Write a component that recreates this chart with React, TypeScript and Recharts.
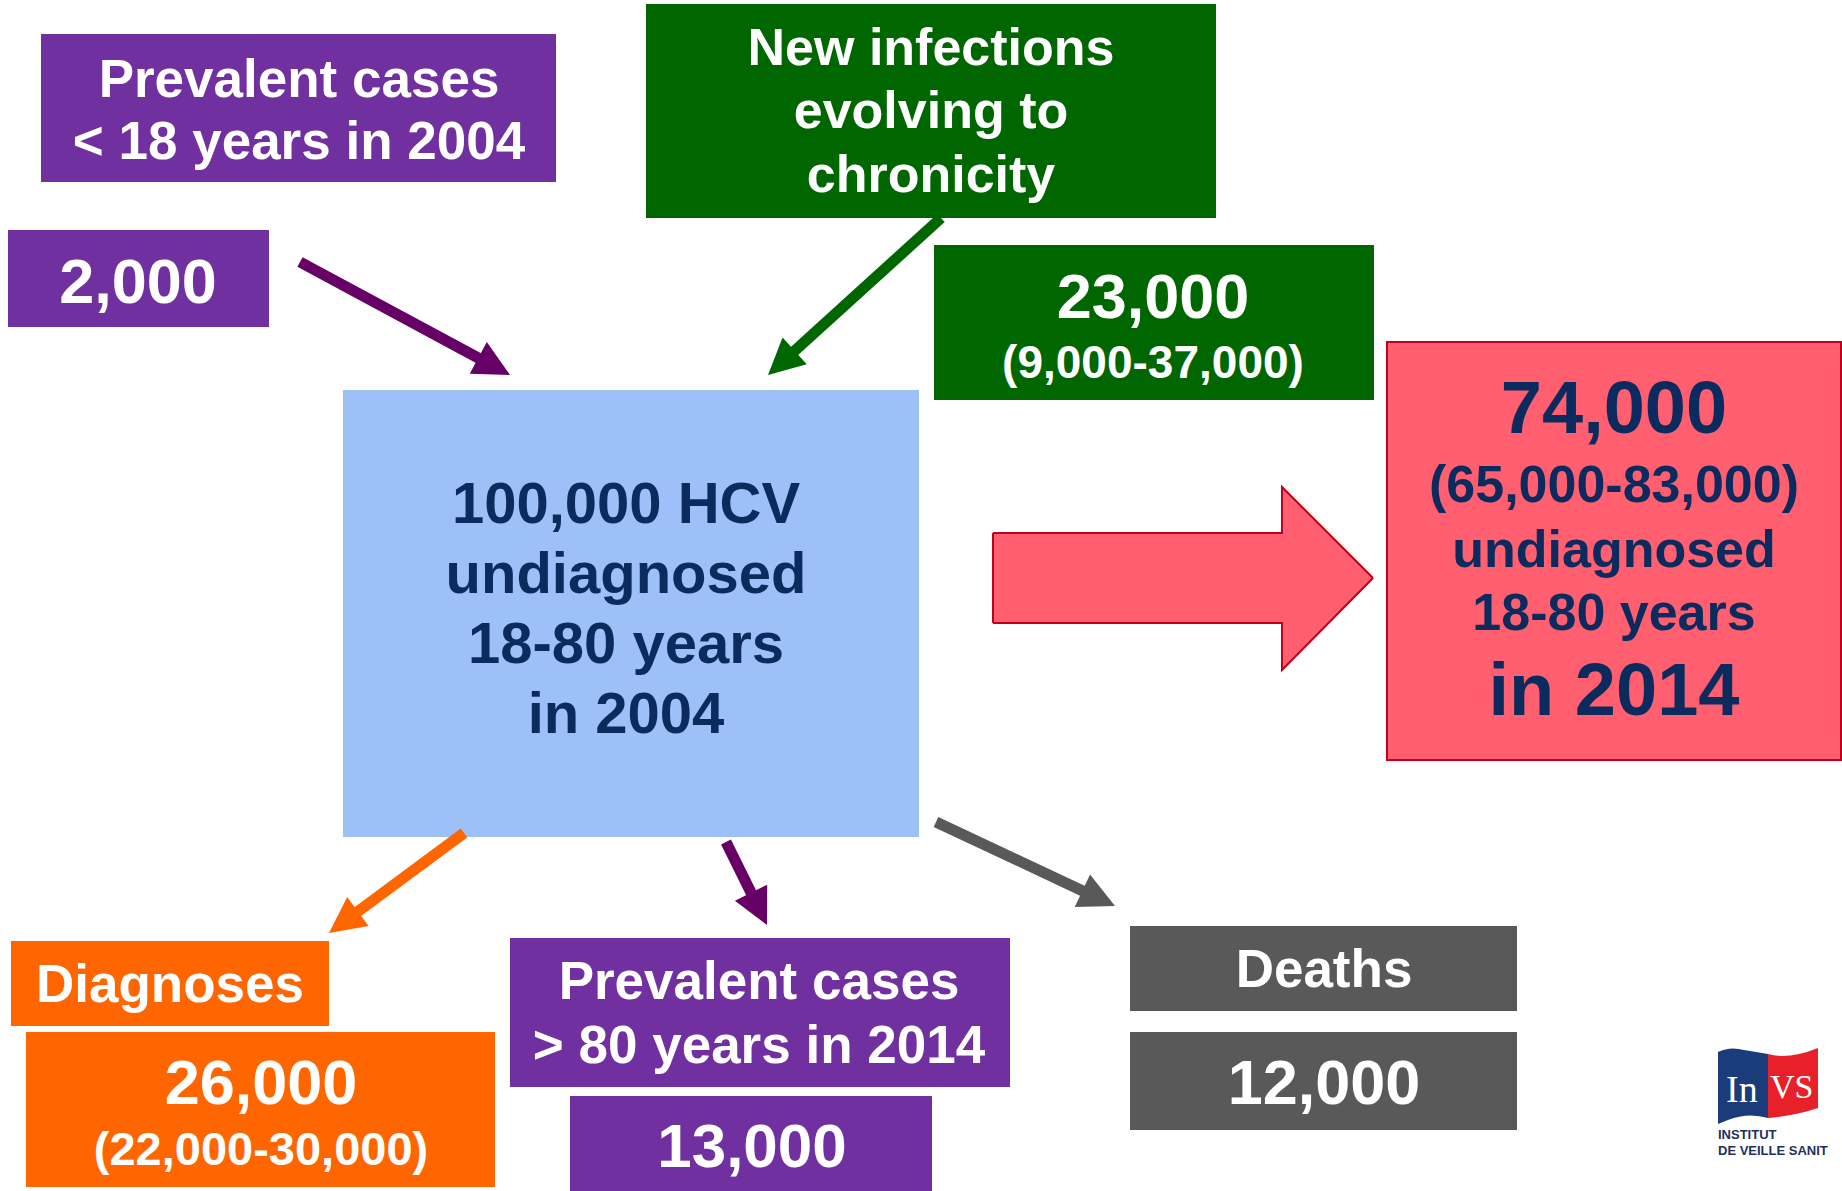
import React from 'react';
import {
  ComposedChart,
  XAxis,
  YAxis,
  ReferenceArea,
  ReferenceLine,
  Scatter,
  Line,
  Area,
} from 'recharts';

// ---- figures shown in the diagram ----
const stock2004 = ['100,000 HCV', 'undiagnosed', '18-80 years', 'in 2004'];
const stock2014 = ['74,000', '(65,000-83,000)', 'undiagnosed', '18-80 years', 'in 2014'];
const inflowTitles = [['Prevalent cases', '< 18 years in 2004'], ['New infections', 'evolving to', 'chronicity']];
const inflowValues = [['2,000'], ['23,000', '(9,000-37,000)']];
const outflowTitles = [['Diagnoses'], ['Prevalent cases', '> 80 years in 2014'], ['Deaths']];
const outflowValues = [['26,000', '(22,000-30,000)'], ['13,000'], ['12,000']];

const W = 1842;
const H = 1191;
const FONT = '"Liberation Sans", Arial, Helvetica, sans-serif';
const NAVY = '#0b2a5e';
const PURPLE = '#7030a0';
const GREEN = '#006600';
const ORANGE = '#ff6600';
const GREY = '#595959';

type Box = {
  x1: number; x2: number; y1: number; y2: number;
  fill: string; stroke?: string;
  lines: string[]; cx: number; base: number[]; size: number[]; color: string;
};

const boxes: Box[] = [
  { x1: 41, x2: 556, y1: 34, y2: 182, fill: PURPLE, lines: inflowTitles[0], cx: 299, base: [97, 159], size: [53, 53], color: '#fff' },
  { x1: 8, x2: 269, y1: 230, y2: 327, fill: PURPLE, lines: inflowValues[0], cx: 138, base: [303], size: [63], color: '#fff' },
  { x1: 646, x2: 1216, y1: 4, y2: 218, fill: GREEN, lines: inflowTitles[1], cx: 931, base: [65, 128, 192], size: [52, 52, 52], color: '#fff' },
  { x1: 934, x2: 1374, y1: 245, y2: 400, fill: GREEN, lines: inflowValues[1], cx: 1153, base: [318, 378], size: [63, 46], color: '#fff' },
  { x1: 343, x2: 919, y1: 390, y2: 837, fill: '#9cc0f7', lines: stock2004, cx: 626, base: [523, 593, 663, 733], size: [58, 58, 58, 58], color: NAVY },
  { x1: 1387, x2: 1841, y1: 342, y2: 760, fill: '#ff5f6e', stroke: '#c0001c', lines: stock2014, cx: 1614, base: [433, 502, 567, 630, 715], size: [74, 52, 52, 52, 74], color: NAVY },
  { x1: 11, x2: 329, y1: 941, y2: 1026, fill: ORANGE, lines: outflowTitles[0], cx: 170, base: [1002], size: [53], color: '#fff' },
  { x1: 26, x2: 495, y1: 1032, y2: 1187, fill: ORANGE, lines: outflowValues[0], cx: 261, base: [1104, 1165], size: [63, 47], color: '#fff' },
  { x1: 510, x2: 1010, y1: 938, y2: 1087, fill: PURPLE, lines: outflowTitles[1], cx: 759, base: [999, 1063], size: [53, 53], color: '#fff' },
  { x1: 570, x2: 932, y1: 1096, y2: 1191, fill: PURPLE, lines: outflowValues[1], cx: 752, base: [1167], size: [62], color: '#fff' },
  { x1: 1130, x2: 1517, y1: 926, y2: 1011, fill: GREY, lines: outflowTitles[2], cx: 1324, base: [987], size: [53], color: '#fff' },
  { x1: 1130, x2: 1517, y1: 1032, y2: 1130, fill: GREY, lines: outflowValues[2], cx: 1324, base: [1104], size: [63], color: '#fff' },
];

// flow arrows: start -> tip
const arrows = [
  { from: [300, 262], to: [510, 375], color: '#660066' },
  { from: [941, 218], to: [768, 375], color: GREEN },
  { from: [464, 833], to: [329, 933], color: ORANGE },
  { from: [726, 842], to: [767, 925], color: '#660066' },
  { from: [936, 822], to: [1115, 906], color: GREY },
];
const HEAD_LEN = 36;
const HEAD_W = 36;

// big block arrow 2004 -> 2014 as a ranged area
const blockArrow = [
  { x: 993, range: [533, 623] },
  { x: 1282, range: [533, 623] },
  { x: 1282, range: [487, 670] },
  { x: 1373, range: [578, 578] },
];

const textPoints = boxes.flatMap((b) =>
  b.lines.map((t, i) => ({ x: b.cx, y: b.base[i], text: t, size: b.size[i], color: b.color, anchor: 'middle' })),
);

const logoText = [
  { x: 1718, y: 1139, text: 'INSTITUT', size: 13, color: '#1f2f5c', anchor: 'start' },
  { x: 1718, y: 1155, text: 'DE VEILLE SANIT', size: 13, color: '#1f2f5c', anchor: 'start' },
];

const TextShape = (props: any) => {
  const { cx, cy, payload } = props;
  return (
    <text
      x={cx}
      y={cy}
      textAnchor={payload.anchor}
      fontFamily={FONT}
      fontWeight="bold"
      fontSize={payload.size}
      fill={payload.color}
    >
      {payload.text}
    </text>
  );
};

const HeadShape = (props: any) => {
  const { cx, cy, payload } = props;
  const a = payload.angle;
  const ux = Math.cos(a);
  const uy = Math.sin(a);
  const bx = cx - ux * HEAD_LEN;
  const by = cy - uy * HEAD_LEN;
  const px = -uy * (HEAD_W / 2);
  const py = ux * (HEAD_W / 2);
  const pts = `${cx},${cy} ${bx + px},${by + py} ${bx - px},${by - py}`;
  return <polygon points={pts} fill={payload.color} />;
};

const LogoShape = (props: any) => {
  const { cx, cy } = props;
  return (
    <g transform={`translate(${cx},${cy})`}>
      <path d="M0,6 Q12,0 26,4 L50,8 L50,72 Q30,66 10,74 L0,78 Z" fill="#1a3c7a" />
      <path d="M50,8 Q70,14 100,2 L100,62 Q76,70 50,72 Z" fill="#e8202a" />
      <text x={8} y={56} fontFamily="Liberation Serif, serif" fontSize={38} fill="#fff">In</text>
      <text x={52} y={52} fontFamily="Liberation Serif, serif" fontSize={34} fill="#fff">VS</text>
    </g>
  );
};

export default function App() {
  const heads = arrows.map((a) => ({
    x: a.to[0],
    y: a.to[1],
    angle: Math.atan2(a.to[1] - a.from[1], a.to[0] - a.from[0]),
    color: a.color,
  }));
  return (
    <div style={{ position: 'absolute', left: 0, top: 0, width: W, height: H, background: '#fff' }}>
      <ComposedChart width={W} height={H} margin={{ top: 0, right: 0, bottom: 0, left: 0 }}>
        <XAxis type="number" dataKey="x" domain={[0, W]} hide allowDataOverflow />
        <YAxis type="number" domain={[0, H]} reversed hide allowDataOverflow />
        {boxes.map((b, i) => (
          <ReferenceArea
            key={`box-${i}`}
            x1={b.x1}
            x2={b.x2}
            y1={b.y1}
            y2={b.y2}
            fill={b.fill}
            fillOpacity={1}
            stroke={b.stroke || 'none'}
            strokeWidth={2}
            ifOverflow="visible"
          />
        ))}
        <Area
          data={blockArrow}
          dataKey="range"
          type="linear"
          fill="#ff5f6e"
          fillOpacity={1}
          stroke="#c0001c"
          strokeWidth={2}
          isAnimationActive={false}
          dot={false}
          activeDot={false}
        />
        <ReferenceLine
          segment={[{ x: 993, y: 533 }, { x: 993, y: 623 }]}
          stroke="#c0001c"
          strokeWidth={2}
          ifOverflow="visible"
        />
        {arrows.map((a, i) => {
          const ang = Math.atan2(a.to[1] - a.from[1], a.to[0] - a.from[0]);
          const end = { x: a.to[0] - Math.cos(ang) * (HEAD_LEN - 4), y: a.to[1] - Math.sin(ang) * (HEAD_LEN - 4) };
          return (
            <Line
              key={`shaft-${i}`}
              data={[{ x: a.from[0], y: a.from[1] }, end]}
              dataKey="y"
              type="linear"
              stroke={a.color}
              strokeWidth={11}
              dot={false}
              activeDot={false}
              isAnimationActive={false}
            />
          );
        })}
        <Scatter data={heads} dataKey="y" shape={HeadShape} isAnimationActive={false} />
        <Scatter data={textPoints} dataKey="y" shape={TextShape} isAnimationActive={false} />
        <Scatter data={[{ x: 1718, y: 1046 }]} dataKey="y" shape={LogoShape} isAnimationActive={false} />
        <Scatter data={logoText} dataKey="y" shape={TextShape} isAnimationActive={false} />
      </ComposedChart>
    </div>
  );
}
